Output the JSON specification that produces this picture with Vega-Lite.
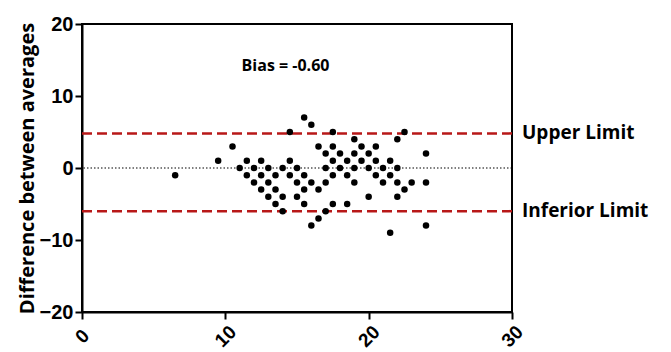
{
  "$schema": "https://vega.github.io/schema/vega-lite/v6.json",
  "width": 430,
  "height": 288,
  "autosize": "none",
  "padding": {"left": 82, "top": 24, "right": 159, "bottom": 40},
  "background": "white",
  "config": {
    "view": {"stroke": "black", "strokeWidth": 2},
    "font": "Liberation Sans"
  },
  "datasets": {
    "points": [
      {"avg": 6.5, "diff": -1},
      {"avg": 15.5, "diff": 7},
      {"avg": 16, "diff": 6},
      {"avg": 14.5, "diff": 5}, {"avg": 17.5, "diff": 5}, {"avg": 22.5, "diff": 5},
      {"avg": 19, "diff": 4}, {"avg": 22, "diff": 4},
      {"avg": 10.5, "diff": 3}, {"avg": 16.5, "diff": 3}, {"avg": 17.5, "diff": 3}, {"avg": 19.5, "diff": 3}, {"avg": 20.5, "diff": 3},
      {"avg": 17, "diff": 2}, {"avg": 18, "diff": 2}, {"avg": 19, "diff": 2}, {"avg": 20, "diff": 2}, {"avg": 24, "diff": 2},
      {"avg": 9.5, "diff": 1}, {"avg": 11.5, "diff": 1}, {"avg": 12.5, "diff": 1}, {"avg": 14.5, "diff": 1}, {"avg": 17.5, "diff": 1}, {"avg": 18.5, "diff": 1}, {"avg": 19.5, "diff": 1}, {"avg": 20.5, "diff": 1}, {"avg": 21.5, "diff": 1},
      {"avg": 11, "diff": 0}, {"avg": 12, "diff": 0}, {"avg": 13, "diff": 0}, {"avg": 14, "diff": 0}, {"avg": 15, "diff": 0}, {"avg": 17, "diff": 0}, {"avg": 18, "diff": 0}, {"avg": 19, "diff": 0}, {"avg": 20, "diff": 0}, {"avg": 21, "diff": 0}, {"avg": 22, "diff": 0},
      {"avg": 11.5, "diff": -1}, {"avg": 12.5, "diff": -1}, {"avg": 13.5, "diff": -1}, {"avg": 14.5, "diff": -1}, {"avg": 15.5, "diff": -1}, {"avg": 17.5, "diff": -1}, {"avg": 18.5, "diff": -1}, {"avg": 20.5, "diff": -1}, {"avg": 21.5, "diff": -1},
      {"avg": 12, "diff": -2}, {"avg": 13, "diff": -2}, {"avg": 15, "diff": -2}, {"avg": 16, "diff": -2}, {"avg": 17, "diff": -2}, {"avg": 19, "diff": -2}, {"avg": 21, "diff": -2}, {"avg": 22, "diff": -2}, {"avg": 23, "diff": -2}, {"avg": 24, "diff": -2},
      {"avg": 12.5, "diff": -3}, {"avg": 13.5, "diff": -3}, {"avg": 15.5, "diff": -3}, {"avg": 16.5, "diff": -3}, {"avg": 22.5, "diff": -3},
      {"avg": 13, "diff": -4}, {"avg": 14, "diff": -4}, {"avg": 15, "diff": -4}, {"avg": 20, "diff": -4}, {"avg": 22, "diff": -4},
      {"avg": 13.5, "diff": -5}, {"avg": 15.5, "diff": -5}, {"avg": 17.5, "diff": -5}, {"avg": 18.5, "diff": -5},
      {"avg": 14, "diff": -6}, {"avg": 17, "diff": -6},
      {"avg": 16.5, "diff": -7},
      {"avg": 16, "diff": -8}, {"avg": 24, "diff": -8},
      {"avg": 21.5, "diff": -9}
    ],
    "limits": [
      {"value": 4.8, "label": "Upper Limit"},
      {"value": -6.0, "label": "Inferior Limit"}
    ],
    "bias": [
      {"x": 14.2, "y": 14.2, "label": "Bias = -0.60"}
    ]
  },
  "layer": [
    {
      "data": {"values": [{"value": 0}]},
      "mark": {"type": "rule", "color": "black", "strokeWidth": 1.2, "strokeDash": [1.5, 2]},
      "encoding": {"y": {"field": "value", "type": "quantitative", "scale": {"domain": [-20, 20]}}}
    },
    {
      "data": {"name": "limits"},
      "mark": {"type": "rule", "color": "#b81818", "strokeWidth": 2.5, "strokeDash": [10, 5]},
      "encoding": {"y": {"field": "value", "type": "quantitative"}}
    },
    {
      "data": {"name": "points"},
      "mark": {"type": "point", "filled": true, "shape": "circle", "size": 42, "color": "black", "opacity": 1},
      "encoding": {
        "x": {
          "field": "avg", "type": "quantitative",
          "scale": {"domain": [0, 30], "nice": false},
          "axis": {
            "values": [0, 10, 20, 30],
            "title": null,
            "grid": false,
            "domainColor": "black", "domainWidth": 2,
            "tickColor": "black", "tickWidth": 2, "tickSize": 7,
            "labelAngle": -45, "labelAlign": "center", "labelBaseline": "middle",
            "labelPadding": 17,
            "labelFont": "Liberation Sans", "labelFontWeight": "bold", "labelFontSize": 19, "labelColor": "black"
          }
        },
        "y": {
          "field": "diff", "type": "quantitative",
          "scale": {"domain": [-20, 20], "nice": false},
          "axis": {
            "values": [-20, -10, 0, 10, 20],
            "title": "Difference between averages",
            "grid": false,
            "domainColor": "black", "domainWidth": 2,
            "tickColor": "black", "tickWidth": 2, "tickSize": 7,
            "labelPadding": 2,
            "labelFont": "Liberation Sans", "labelFontWeight": "bold", "labelFontSize": 20, "labelColor": "black",
            "titleFont": "Open Sans", "titleFontWeight": "bold", "titleFontSize": 20, "titleColor": "black",
            "titlePadding": 2
          }
        }
      }
    },
    {
      "data": {"name": "limits"},
      "mark": {"type": "text", "align": "left", "baseline": "middle", "dx": 10, "font": "Open Sans", "fontWeight": "bold", "fontSize": 19, "color": "black", "clip": false},
      "encoding": {
        "x": {"datum": 30, "type": "quantitative"},
        "y": {"field": "value", "type": "quantitative"},
        "text": {"field": "label"}
      }
    },
    {
      "data": {"name": "bias"},
      "mark": {"type": "text", "align": "center", "baseline": "middle", "font": "Open Sans", "fontWeight": "bold", "fontSize": 16, "color": "black"},
      "encoding": {
        "x": {"field": "x", "type": "quantitative"},
        "y": {"field": "y", "type": "quantitative"},
        "text": {"field": "label"}
      }
    }
  ]
}
